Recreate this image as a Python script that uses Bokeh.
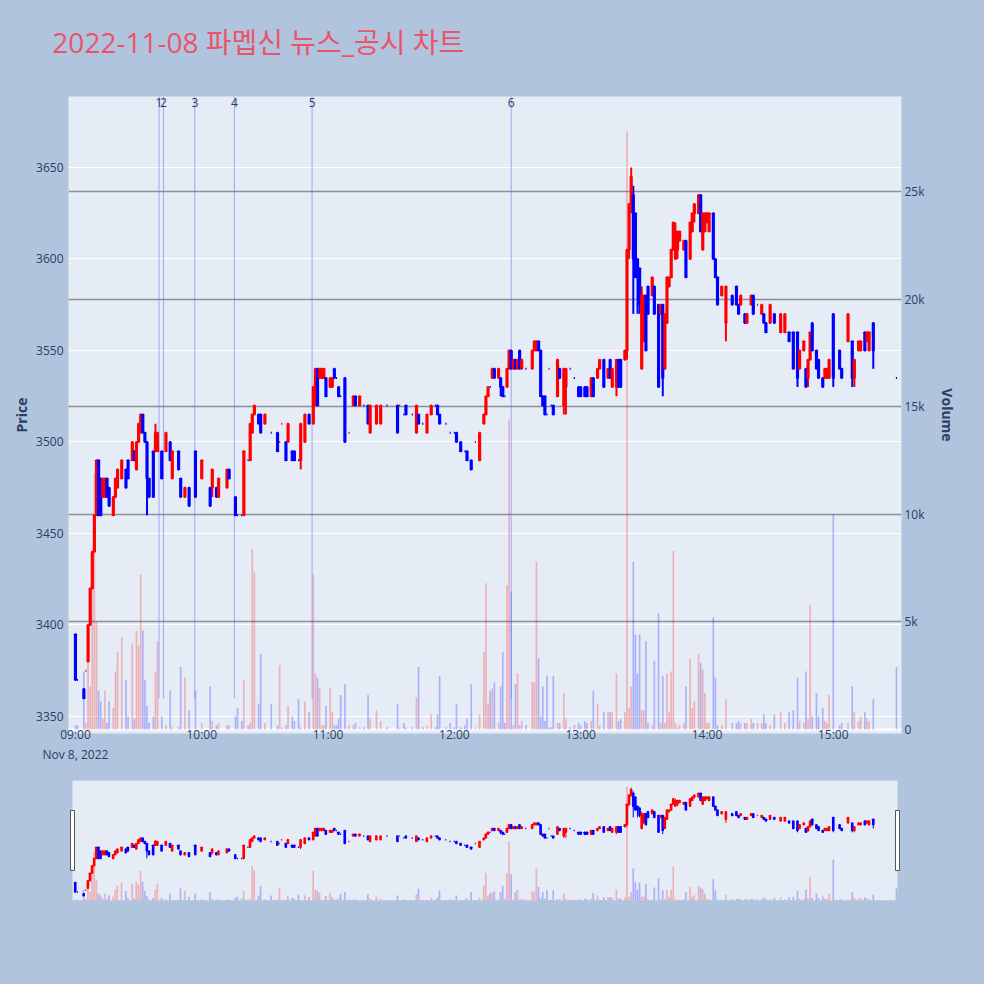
import numpy as np
from bokeh.plotting import figure
from bokeh.models import Range1d, LinearAxis, FixedTicker, Grid, ColumnDataSource
from bokeh.layouts import column
from bokeh.embed import file_html
from bokeh.resources import INLINE

TITLE = "2022-11-08 파멥신 뉴스_공시 차트"

# ---- one-minute candles (time, open, high, low, close, volume) ----
times = [
    "09:00","09:01","09:04","09:05","09:06","09:07","09:08","09:09","09:10","09:11","09:12","09:13","09:14","09:15","09:16","09:18","09:19","09:20","09:22","09:24","09:25","09:27","09:28","09:29","09:30","09:31","09:32","09:33","09:34","09:35","09:37","09:38","09:39","09:41","09:43","09:45","09:46","09:49","09:50","09:52","09:54","09:57",
    "10:00","10:04","10:05","10:07","10:08","10:12","10:13","10:16","10:17","10:19","10:20","10:22","10:23","10:24","10:25","10:27","10:28","10:30","10:33","10:36","10:37","10:38","10:40","10:41","10:43","10:44","10:46","10:47","10:49","10:51","10:53","10:54","10:55","10:56","10:57","10:58","10:59",
    "11:01","11:02","11:03","11:04","11:05","11:06","11:08","11:10","11:12","11:13","11:15","11:17","11:19","11:20","11:23","11:25","11:28","11:33","11:34","11:36","11:37","11:40","11:42","11:43","11:45","11:47","11:49","11:51","11:52","11:53","11:56","11:58",
    "12:00","12:01","12:03","12:05","12:06","12:08","12:10","12:12","12:14","12:15","12:16","12:17","12:18","12:19","12:21","12:22","12:23","12:24","12:25","12:26","12:27","12:28","12:29","12:30","12:31","12:32","12:34","12:37","12:38","12:39","12:40","12:41","12:42","12:43","12:44","12:45","12:46","12:47","12:49","12:50","12:52","12:53","12:55","12:57","12:59",
    "13:00","13:02","13:03","13:05","13:06","13:08","13:09","13:11","13:13","13:14","13:15","13:17","13:18","13:19","13:21","13:22","13:23","13:24","13:25","13:26","13:27","13:28","13:29","13:30","13:31","13:32","13:34","13:35","13:37","13:38","13:39","13:40","13:41","13:42","13:43","13:44","13:45","13:46","13:47","13:49","13:50","13:52","13:53","13:54","13:56","13:57","13:58","13:59",
    "14:00","14:01","14:03","14:04","14:05","14:07","14:09","14:12","14:14","14:15","14:16","14:18","14:19","14:21","14:22","14:24","14:26","14:27","14:28","14:30","14:32","14:35","14:37","14:39","14:41","14:43","14:44","14:46","14:47","14:48","14:49","14:50","14:52","14:53","14:55","14:56","14:57","14:58",
    "15:00","15:03","15:04","15:07","15:09","15:10","15:12","15:13","15:15","15:16","15:17","15:19","15:30",
]
opens = [
    3395,3370,3365,3375,3380,3400,3420,3440,3460,3490,3480,3470,3470,3480,3475,3460,3470,3475,3480,3485,3490,3490,3495,3485,3500,3505,3515,3505,3500,3480,3495,3495,3495,3495,3495,3500,3480,3495,3480,3470,3475,3495,
    3480,3475,3475,3475,3470,3475,3485,3470,3460,3460,3460,3490,3490,3505,3515,3515,3515,3510,3505,3505,3500,3510,3500,3500,3495,3495,3490,3490,3500,3515,3510,3520,3540,3535,3535,3535,3535,
    3530,3530,3540,3535,3530,3525,3535,3505,3520,3525,3520,3520,3520,3505,3510,3510,3520,3520,3520,3515,3520,3515,3505,3515,3510,3505,3515,3520,3520,3515,3510,3505,
    3505,3505,3500,3495,3495,3490,3500,3490,3510,3515,3525,3530,3535,3540,3535,3535,3530,3525,3530,3540,3550,3540,3545,3540,3550,3540,3540,3540,3550,3550,3555,3550,3525,3525,3515,3540,3520,3520,3525,3540,3520,3530,3540,3535,3530,
    3530,3530,3530,3525,3535,3535,3540,3545,3535,3545,3530,3530,3545,3545,3545,3550,3605,3630,3635,3625,3600,3595,3540,3555,3580,3585,3580,3585,3575,3570,3575,3540,3565,3585,3590,3605,3600,3605,3610,3605,3610,3600,3615,3625,3625,3635,3605,3615,
    3620,3615,3625,3600,3590,3580,3565,3580,3585,3575,3575,3570,3565,3575,3580,3575,3570,3570,3565,3565,3570,3560,3560,3560,3560,3560,3540,3550,3540,3535,3545,3565,3550,3545,3535,3535,3535,3535,
    3570,3550,3540,3555,3555,3535,3550,3550,3560,3555,3550,3565,3535,
]
highs = [
    3395,3370,3365,3375,3400,3420,3440,3460,3490,3490,3480,3480,3480,3480,3475,3470,3480,3485,3490,3485,3490,3500,3495,3500,3510,3515,3515,3505,3500,3480,3495,3510,3505,3495,3505,3500,3495,3495,3480,3475,3475,3495,
    3490,3475,3485,3475,3480,3485,3485,3470,3460,3460,3495,3490,3510,3515,3520,3515,3515,3515,3505,3505,3500,3510,3500,3510,3495,3495,3490,3510,3515,3515,3530,3540,3540,3540,3540,3540,3535,
    3535,3535,3540,3535,3530,3525,3535,3505,3525,3525,3525,3520,3520,3520,3520,3520,3520,3520,3520,3515,3520,3515,3520,3515,3510,3515,3520,3520,3520,3515,3510,3505,
    3505,3505,3500,3495,3495,3490,3500,3505,3515,3525,3530,3530,3540,3540,3540,3535,3530,3525,3540,3550,3550,3545,3545,3545,3550,3545,3540,3550,3555,3555,3555,3550,3525,3525,3515,3540,3520,3520,3545,3540,3540,3540,3540,3535,3530,
    3530,3530,3530,3535,3535,3540,3545,3545,3540,3545,3540,3545,3545,3545,3550,3605,3630,3650,3640,3625,3600,3595,3585,3580,3580,3585,3590,3585,3575,3575,3575,3570,3590,3590,3605,3620,3620,3615,3615,3610,3610,3620,3625,3630,3635,3635,3625,3625,
    3625,3625,3625,3600,3590,3585,3585,3580,3585,3575,3580,3570,3570,3580,3580,3575,3575,3570,3565,3575,3570,3570,3570,3560,3560,3560,3550,3555,3540,3545,3560,3565,3550,3545,3535,3540,3540,3545,
    3570,3550,3540,3570,3555,3545,3555,3555,3560,3560,3560,3565,3535,
]
lows = [
    3370,3370,3360,3375,3380,3400,3420,3440,3460,3460,3460,3470,3470,3470,3465,3460,3470,3475,3480,3475,3480,3490,3490,3485,3500,3505,3505,3500,3460,3470,3470,3495,3495,3480,3495,3490,3480,3485,3470,3470,3465,3470,
    3480,3465,3470,3470,3470,3475,3480,3460,3460,3460,3460,3490,3490,3505,3515,3510,3505,3510,3505,3495,3500,3510,3490,3500,3490,3490,3490,3485,3500,3510,3510,3520,3520,3535,3535,3535,3525,
    3530,3530,3535,3535,3525,3525,3500,3505,3520,3520,3520,3520,3510,3505,3510,3510,3520,3505,3520,3515,3515,3515,3505,3510,3510,3505,3515,3520,3515,3510,3510,3505,
    3505,3500,3495,3495,3490,3485,3500,3490,3510,3515,3525,3530,3535,3535,3535,3525,3525,3525,3530,3540,3540,3540,3540,3540,3540,3540,3540,3540,3550,3550,3550,3525,3520,3515,3515,3540,3520,3515,3525,3535,3515,3515,3540,3535,3525,
    3525,3525,3525,3525,3525,3535,3540,3530,3535,3535,3530,3525,3530,3530,3545,3545,3600,3625,3570,3590,3570,3570,3540,3555,3550,3570,3580,3570,3530,3570,3525,3540,3565,3585,3590,3605,3600,3600,3610,3605,3590,3600,3615,3620,3625,3615,3605,3615,
    3620,3615,3600,3590,3575,3580,3555,3575,3575,3570,3575,3565,3565,3575,3570,3575,3570,3565,3560,3565,3565,3560,3560,3555,3540,3530,3540,3550,3530,3530,3545,3550,3540,3535,3530,3535,3535,3535,
    3530,3540,3535,3555,3530,3530,3550,3550,3550,3555,3550,3540,3535,
]
closes = [
    3370,3370,3360,3375,3400,3420,3440,3460,3490,3460,3460,3480,3480,3470,3465,3470,3480,3485,3490,3475,3480,3500,3490,3500,3510,3515,3505,3500,3480,3470,3470,3505,3505,3480,3505,3490,3495,3485,3470,3475,3465,3470,
    3490,3465,3485,3470,3480,3485,3480,3460,3460,3460,3495,3490,3510,3515,3520,3510,3505,3515,3505,3495,3500,3510,3490,3510,3490,3490,3490,3510,3515,3510,3530,3540,3520,3540,3540,3540,3525,
    3535,3535,3535,3535,3525,3525,3500,3505,3525,3520,3525,3520,3510,3520,3520,3520,3520,3505,3520,3515,3515,3515,3520,3510,3510,3515,3520,3520,3515,3510,3510,3505,
    3505,3500,3495,3495,3490,3485,3500,3505,3515,3525,3530,3530,3540,3535,3540,3530,3525,3525,3540,3550,3540,3545,3540,3545,3540,3545,3540,3550,3555,3555,3550,3525,3520,3515,3515,3540,3520,3515,3545,3535,3540,3540,3540,3535,3525,
    3525,3525,3525,3535,3525,3540,3545,3530,3540,3535,3540,3545,3530,3530,3550,3605,3630,3645,3600,3590,3590,3575,3580,3580,3550,3570,3590,3570,3530,3575,3535,3570,3590,3590,3605,3620,3615,3615,3615,3610,3590,3620,3625,3630,3635,3615,3625,3625,
    3625,3625,3600,3590,3575,3585,3585,3575,3575,3570,3580,3565,3570,3580,3570,3575,3575,3565,3560,3575,3565,3570,3570,3555,3540,3535,3550,3555,3530,3545,3560,3550,3540,3535,3530,3540,3540,3545,
    3535,3540,3535,3570,3535,3545,3555,3555,3550,3560,3560,3550,3535,
]
volumes = [
    200,200,2700,300,3700,2000,8000,11900,5000,1800,1300,500,1800,300,1300,1000,2700,3600,4300,2300,600,4000,500,4600,3900,7200,4600,2300,1100,300,600,2700,4100,600,200,1800,100,100,2900,2400,900,1800,
    300,2000,400,200,300,200,200,600,1000,400,2300,200,300,8400,7300,1200,3500,300,1200,200,3000,100,200,1100,600,400,1400,100,1300,800,7200,2600,2400,1900,200,200,1100,
    1900,800,200,200,500,1600,2100,200,200,300,100,100,1600,500,900,400,100,1200,100,300,100,100,1500,2900,100,200,700,100,700,2500,100,300,
    100,1200,100,200,500,2100,100,700,3600,6800,1200,1800,1900,2200,300,2000,3600,300,6700,14400,6400,200,2100,2600,200,400,200,2200,2200,7800,3300,600,2000,400,2500,100,100,2500,300,300,1700,500,100,200,300,
    200,400,300,400,1800,1200,200,800,800,800,800,2600,400,500,800,27800,1000,2000,7800,4400,2600,4400,900,900,4100,300,200,3200,5400,300,2500,300,2600,800,2700,8300,300,100,200,300,2000,3300,1000,1300,3500,3100,2800,1700,
    300,300,5200,2400,200,200,1400,300,300,400,300,300,300,500,300,300,300,700,300,200,700,800,300,800,900,2400,400,300,2700,500,5800,600,1700,600,1000,400,300,1600,
    10000,200,300,300,2000,800,400,600,800,500,400,1400,2900,
]

# ---- news / disclosure markers ----
news_times = ["09:39:42", "09:41:48", "09:56:42", "10:15:30", "10:52:24", "12:27:00"]
news_labels = ["1", "2", "3", "4", "5", "6"]

# ---- axes ----
price_ticks = [3350, 3400, 3450, 3500, 3550, 3600, 3650]
volume_ticks = [0, 5000, 10000, 15000, 20000, 25000]
volume_tick_labels = ["0", "5k", "10k", "15k", "20k", "25k"]
hour_ticks = ["09:00", "10:00", "11:00", "12:00", "13:00", "14:00", "15:00"]
date_label = "Nov 8, 2022"


def to_min(s):
    parts = [int(x) for x in s.split(":")]
    sec = parts[2] if len(parts) > 2 else 0
    return (parts[0] - 9) * 60 + parts[1] + sec / 60.0


t = np.array([to_min(s) for s in times])
o = np.array(opens, dtype=float)
h = np.array(highs, dtype=float)
l = np.array(lows, dtype=float)
c = np.array(closes, dtype=float)
v = np.array(volumes, dtype=float)

prev = np.concatenate([[c[0]], c[:-1]])
up = (c > o) | ((c == o) & (c > prev))
col = np.where(up, "#ff0000", "#0000ff")

src = ColumnDataSource(dict(t=t, o=o, h=h, l=l, c=c, v=v,
                            top=np.maximum(o, c), bot=np.minimum(o, c), col=col))

news_m = [to_min(s) for s in news_times]

FONT = "'Open Sans', 'Noto Sans', sans-serif"
TXT = "#2a3f5f"
PAPER = "#b0c4de"
PLOT_BG = "#e5ecf6"

# ================= main chart =================
p = figure(width=984, height=772,
           x_range=Range1d(-3.3, 392.4), y_range=Range1d(3340.7, 3688.8),
           output_backend="svg", toolbar_location=None, title=None,
           background_fill_color=PLOT_BG, border_fill_color=PAPER,
           outline_line_color=None,
           min_border_left=68, min_border_right=83, min_border_top=96, min_border_bottom=39)

p.extra_y_ranges = {"vol": Range1d(-186, 29414)}

p.xgrid.visible = False
p.ygrid.ticker = FixedTicker(ticks=price_ticks)
p.ygrid.grid_line_color = "white"
p.ygrid.grid_line_width = 1
p.add_layout(Grid(dimension=1, ticker=FixedTicker(ticks=volume_ticks[1:]), y_range_name="vol",
                  grid_line_color="#8a8f98", grid_line_width=1.3))
p.add_layout(Grid(dimension=1, ticker=FixedTicker(ticks=[0]), y_range_name="vol",
                  grid_line_color="white", grid_line_width=2))

# volume bars
p.vbar(x="t", top="v", bottom=0, width=0.8, source=src, y_range_name="vol",
       fill_color="col", fill_alpha=0.25, line_color=None)

# news lines
p.segment(x0=news_m, x1=news_m, y0=[3360] * len(news_m), y1=[3688.8] * len(news_m),
          line_color="#636efa", line_alpha=0.55, line_width=1)

# candles
p.segment(x0="t", x1="t", y0="l", y1="h", source=src, line_color="col", line_width=2)
p.vbar(x="t", top="top", bottom="bot", width=0.55, source=src,
       fill_color="col", line_color="col", line_width=2)


def style_axis(ax, size="12px"):
    ax.axis_line_color = None
    ax.major_tick_line_color = None
    ax.minor_tick_line_color = None
    ax.major_tick_out = 0
    ax.major_tick_in = 0
    ax.major_label_text_font = FONT
    ax.major_label_text_font_size = size
    ax.major_label_text_color = TXT
    ax.axis_label_text_font = FONT
    ax.axis_label_text_font_size = "14px"
    ax.axis_label_text_font_style = "bold"
    ax.axis_label_text_color = TXT


ya = p.yaxis[0]
ya.ticker = FixedTicker(ticks=price_ticks)
ya.axis_label = "Price"
style_axis(ya)
ya.major_label_standoff = 5
ya.axis_label_standoff = 2

va = LinearAxis(y_range_name="vol", ticker=FixedTicker(ticks=volume_ticks),
                major_label_overrides={k: lab for k, lab in zip(volume_ticks, volume_tick_labels)},
                axis_label="Volume")
style_axis(va)
va.major_label_standoff = 3
va.axis_label_standoff = 10
p.add_layout(va, "right")

xa = p.xaxis[0]
hour_m = [to_min(s) for s in hour_ticks]
xa.ticker = FixedTicker(ticks=hour_m)
xa.major_label_overrides = {m: (s + "\n" + date_label if i == 0 else s)
                            for i, (m, s) in enumerate(zip(hour_m, hour_ticks))}
style_axis(xa)
xa.major_label_standoff = -8

na = LinearAxis(ticker=FixedTicker(ticks=news_m),
                major_label_overrides={m: lab for m, lab in zip(news_m, news_labels)})
style_axis(na)
na.major_label_standoff = -10
p.add_layout(na, "above")

# chart title, drawn as the single label of a top axis (centred over x = 86.9 min)
title_pos = 86.9
ta = LinearAxis(ticker=FixedTicker(ticks=[title_pos]),
                major_label_overrides={title_pos: TITLE})
style_axis(ta)
ta.major_label_text_font = "'Open Sans', 'Noto Sans CJK KR', sans-serif"
ta.major_label_text_font_size = "28px"
ta.major_label_text_color = "#ea546a"
ta.major_label_standoff = 34
p.add_layout(ta, "above")

# ================= range slider =================
s = figure(width=984, height=212,
           x_range=Range1d(-3.2, 392.4), y_range=Range1d(3347, 3669),
           output_backend="svg", toolbar_location=None, title=None,
           background_fill_color=PAPER, border_fill_color=PAPER,
           outline_line_color=None,
           min_border_left=68, min_border_right=83, min_border_top=8, min_border_bottom=84)
s.extra_y_ranges = {"vol": Range1d(0, 29300)}
s.xaxis.visible = False
s.yaxis.visible = False
s.grid.visible = False
s.quad(left=[-1.3], right=[390.5], bottom=[3347], top=[3669],
       fill_color=PLOT_BG, line_color=None)
s.vbar(x="t", top="v", bottom=0, width=0.8, source=src, y_range_name="vol",
       fill_color="col", fill_alpha=0.25, line_color=None)
s.segment(x0="t", x1="t", y0="l", y1="h", source=src, line_color="col", line_width=1)
s.vbar(x="t", top="top", bottom="bot", width=0.55, source=src,
       fill_color="col", line_color="col", line_width=1.5)
s.rect(x=[-1.3, 390.5], y=[3508, 3508], width=4, height=60,
       width_units="screen", height_units="screen",
       fill_color="white", line_color="#555555", line_width=1)

layout = column(p, s, spacing=0, styles={"background-color": PAPER})
open("out.html", "w").write(file_html(layout, INLINE))
